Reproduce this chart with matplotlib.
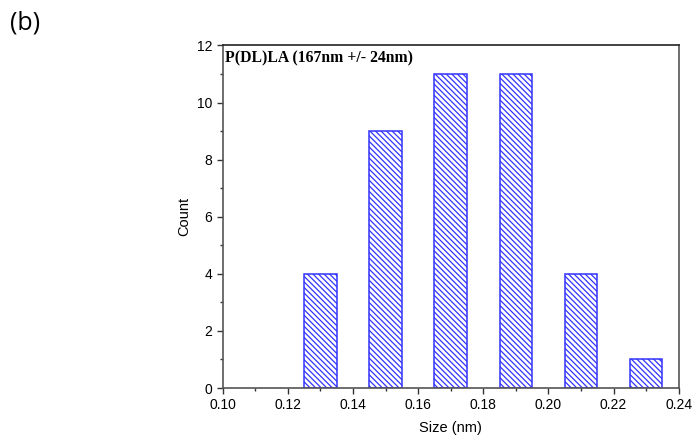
import matplotlib.pyplot as plt
import numpy as np

# bin centres (nm) and counts
size_centres = [0.13, 0.15, 0.17, 0.19, 0.21, 0.23]
counts = [4, 9, 11, 11, 4, 1]
bar_width = 0.01

x_ticks = [0.10, 0.12, 0.14, 0.16, 0.18, 0.20, 0.22, 0.24]
y_ticks = [0, 2, 4, 6, 8, 10, 12]

plt.rcParams['font.family'] = ['Liberation Sans', 'DejaVu Sans']
plt.rcParams['hatch.linewidth'] = 0.9
plt.rcParams['hatch.color'] = '#2a2aff'

fig = plt.figure(figsize=(6.94, 4.37), dpi=100)
ax = fig.add_axes([0.3209, 0.1121, 0.978 - 0.3209, 0.8959 - 0.1121])

ax.bar(size_centres, counts, width=bar_width, facecolor='white',
       edgecolor='#3333ff', linewidth=1.1, hatch='\\' * 6)

ax.set_xlim(0.10, 0.24)
ax.set_ylim(0, 12)
ax.set_xticks(x_ticks)
ax.set_xticklabels([f'{t:.2f}' for t in x_ticks])
ax.set_yticks(y_ticks)
ax.set_xticks(np.arange(0.11, 0.24, 0.02), minor=True)
ax.set_yticks(np.arange(1, 12, 2), minor=True)
ax.tick_params(which='major', direction='out', length=4, width=1, color='#333333', labelsize=10)
ax.tick_params(which='minor', direction='out', length=2.5, width=1, color='#333333')

for side in ['left', 'right', 'bottom']:
    ax.spines[side].set_color('#555555')
    ax.spines[side].set_linewidth(1.2)
ax.spines['top'].set_color('#222222')
ax.spines['top'].set_linewidth(1.2)

ax.set_xlabel('Size (nm)', fontsize=10.5, labelpad=6)
ax.set_ylabel('Count', fontsize=10.5)

ax.text(0.004, 0.985, 'P(DL)LA (167nm +/- 24nm)', transform=ax.transAxes,
        ha='left', va='top', fontsize=11.3, fontweight='bold', family='Liberation Serif')

fig.text(0.014, 0.948, '(b)', fontsize=18, family='Open Sans', ha='left', va='center')

plt.savefig('out.png', dpi=100)
